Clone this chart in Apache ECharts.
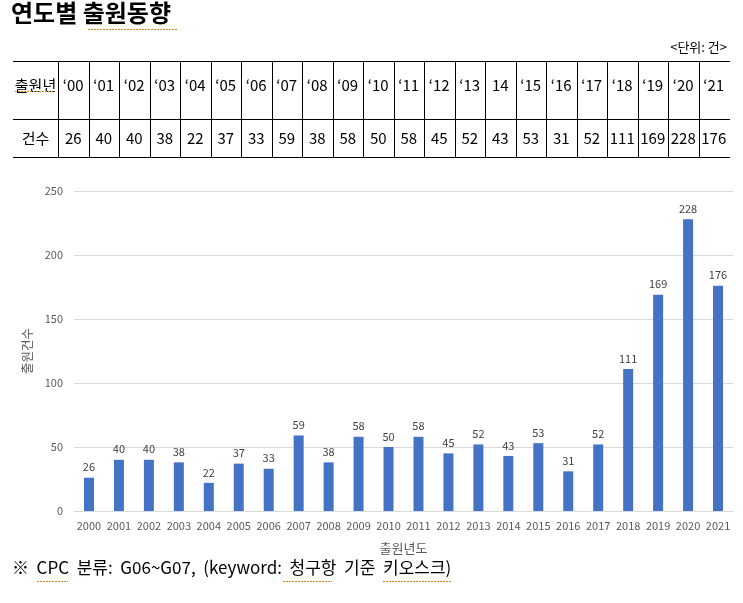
<!DOCTYPE html>
<html><head><meta charset="utf-8">
<script src="https://cdn.jsdelivr.net/npm/echarts@6/dist/echarts.min.js"></script>
<style>html,body{margin:0;padding:0;background:#fff}#c{width:743px;height:603px}</style>
</head><body><div id="c"></div><script>
const years = ['2000','2001','2002','2003','2004','2005','2006','2007','2008','2009','2010','2011','2012','2013','2014','2015','2016','2017','2018','2019','2020','2021'];
const tableHeads = ['‘00','‘01','‘02','‘03','‘04','‘05','‘06','‘07','‘08','‘09','‘10','‘11','‘12','‘13','14','‘15','‘16','‘17','‘18','‘19','‘20','‘21'];
const counts = [26,40,40,38,22,37,33,59,38,58,50,58,45,52,43,53,31,52,111,169,228,176];
const yTicks = {min:0, max:250, interval:50};

const FONT = '"Noto Sans CJK KR", "Noto Sans", sans-serif';
const chart = echarts.init(document.getElementById('c'), null, {renderer:'canvas'});

function crisp(v){ return Math.round(v) + 0.5; }

const TABLE_TOP = 61, TABLE_H = 96, HEAD_H = 58;
const lineStyle = {stroke:'#000', lineWidth:1};

function renderCell(params, api){
  const i = api.value(0);
  const c = api.coord([i, 0]);
  const w = api.size([1, 0])[0];
  const cs = params.coordSys;
  const x0 = crisp(c[0] - w/2), x1 = Math.round(c[0] + w/2) + 1;
  const top = crisp(cs.y), bot = crisp(cs.y + cs.height), mid = crisp(cs.y + cs.height*HEAD_H/TABLE_H);
  return {type:'group', children:[
    {type:'line', shape:{x1:x0,y1:top,x2:x0,y2:bot}, style:lineStyle},
    {type:'line', shape:{x1:x0,y1:top,x2:x1,y2:top}, style:lineStyle},
    {type:'line', shape:{x1:x0,y1:mid,x2:x1,y2:mid}, style:lineStyle},
    {type:'line', shape:{x1:x0,y1:bot,x2:x1,y2:bot}, style:lineStyle},
    {type:'text', style:{text: tableHeads[i], x:c[0], y: cs.y + 24, align:'center', verticalAlign:'middle', font:'15px ' + FONT, fill:'#000'}},
    {type:'text', style:{text: String(api.value(1)), x:c[0], y: cs.y + HEAD_H + (TABLE_H-HEAD_H)/2, align:'center', verticalAlign:'middle', font:'15px ' + FONT, fill:'#000'}}
  ]};
}

function squiggle(x1, x2, y){
  return {type:'line', shape:{x1:x1,y1:y,x2:x2,y2:y}, style:{stroke:'#d4891c', lineWidth:1, lineDash:[2,1]}, silent:true};
}

const option = {
  backgroundColor:'#fff',
  animation:false,
  textStyle:{fontFamily:FONT},
  grid:[
    {left:74, right:10, top:191, height:320},
    {left:58, width:671, top:TABLE_TOP, height:TABLE_H}
  ],
  xAxis:[
    {type:'category', data:years, gridIndex:0,
     axisTick:{show:false}, axisLine:{lineStyle:{color:'#d9d9d9'}},
     axisLabel:{color:'#595959', fontSize:11, margin:9, interval:0},
     name:'출원년도', nameLocation:'middle', nameGap:31,
     nameTextStyle:{color:'#595959', fontSize:13}},
    {type:'category', data:tableHeads, gridIndex:1, show:false}
  ],
  yAxis:[
    {type:'value', gridIndex:0, min:yTicks.min, max:yTicks.max, interval:yTicks.interval,
     axisLine:{show:false}, axisTick:{show:false},
     axisLabel:{color:'#595959', fontSize:11, margin:11},
     splitLine:{lineStyle:{color:'#d9d9d9'}},
     name:'출원건수', nameLocation:'middle', nameGap:37, nameRotate:90,
     nameTextStyle:{color:'#595959', fontSize:12.5}},
    {type:'value', gridIndex:1, min:0, max:1, show:false}
  ],
  series:[
    {type:'bar', data:counts, xAxisIndex:0, yAxisIndex:0, barWidth:10,
     itemStyle:{color:'#4472C4'},
     label:{show:true, position:'top', color:'#404040', fontSize:11, distance:5}},
    {type:'custom', xAxisIndex:1, yAxisIndex:1, data:counts.map((v,i)=>[i,v]),
     encode:{x:0}, renderItem:renderCell, clip:false}
  ],
  graphic:[
    {type:'text', left:11, top:1, style:{text:'연도별 출원동향', font:'bold 24px ' + FONT, fill:'#000'}},
    squiggle(88, 177, 29.5),
    {type:'text', right:16, top:41, style:{text:'<단위: 건>', font:'13px ' + FONT, fill:'#000'}},
    {type:'line', shape:{x1:13,y1:crisp(TABLE_TOP),x2:58,y2:crisp(TABLE_TOP)}, style:lineStyle},
    {type:'line', shape:{x1:13,y1:crisp(TABLE_TOP+HEAD_H),x2:58,y2:crisp(TABLE_TOP+HEAD_H)}, style:lineStyle},
    {type:'line', shape:{x1:13,y1:crisp(TABLE_TOP+TABLE_H),x2:58,y2:crisp(TABLE_TOP+TABLE_H)}, style:lineStyle},
    {type:'text', x:35.5, y:TABLE_TOP+24, style:{text:'출원년', align:'center', verticalAlign:'middle', font:'15px ' + FONT, fill:'#000'}},
    squiggle(15, 54, 91.5),
    {type:'text', x:35.5, y:TABLE_TOP+HEAD_H+19, style:{text:'건수', align:'center', verticalAlign:'middle', font:'15px ' + FONT, fill:'#000'}},
    {type:'text', left:12, top:559, style:{text:'※  CPC  분류:  G06~G07,  (keyword:  청구항  기준  키오스크)', font:'17px ' + FONT, fill:'#000'}},
    squiggle(37, 68, 581.5),
    squiggle(283, 332, 581.5),
    squiggle(383, 452, 581.5)
  ]
};
chart.setOption(option);
</script></body></html>
